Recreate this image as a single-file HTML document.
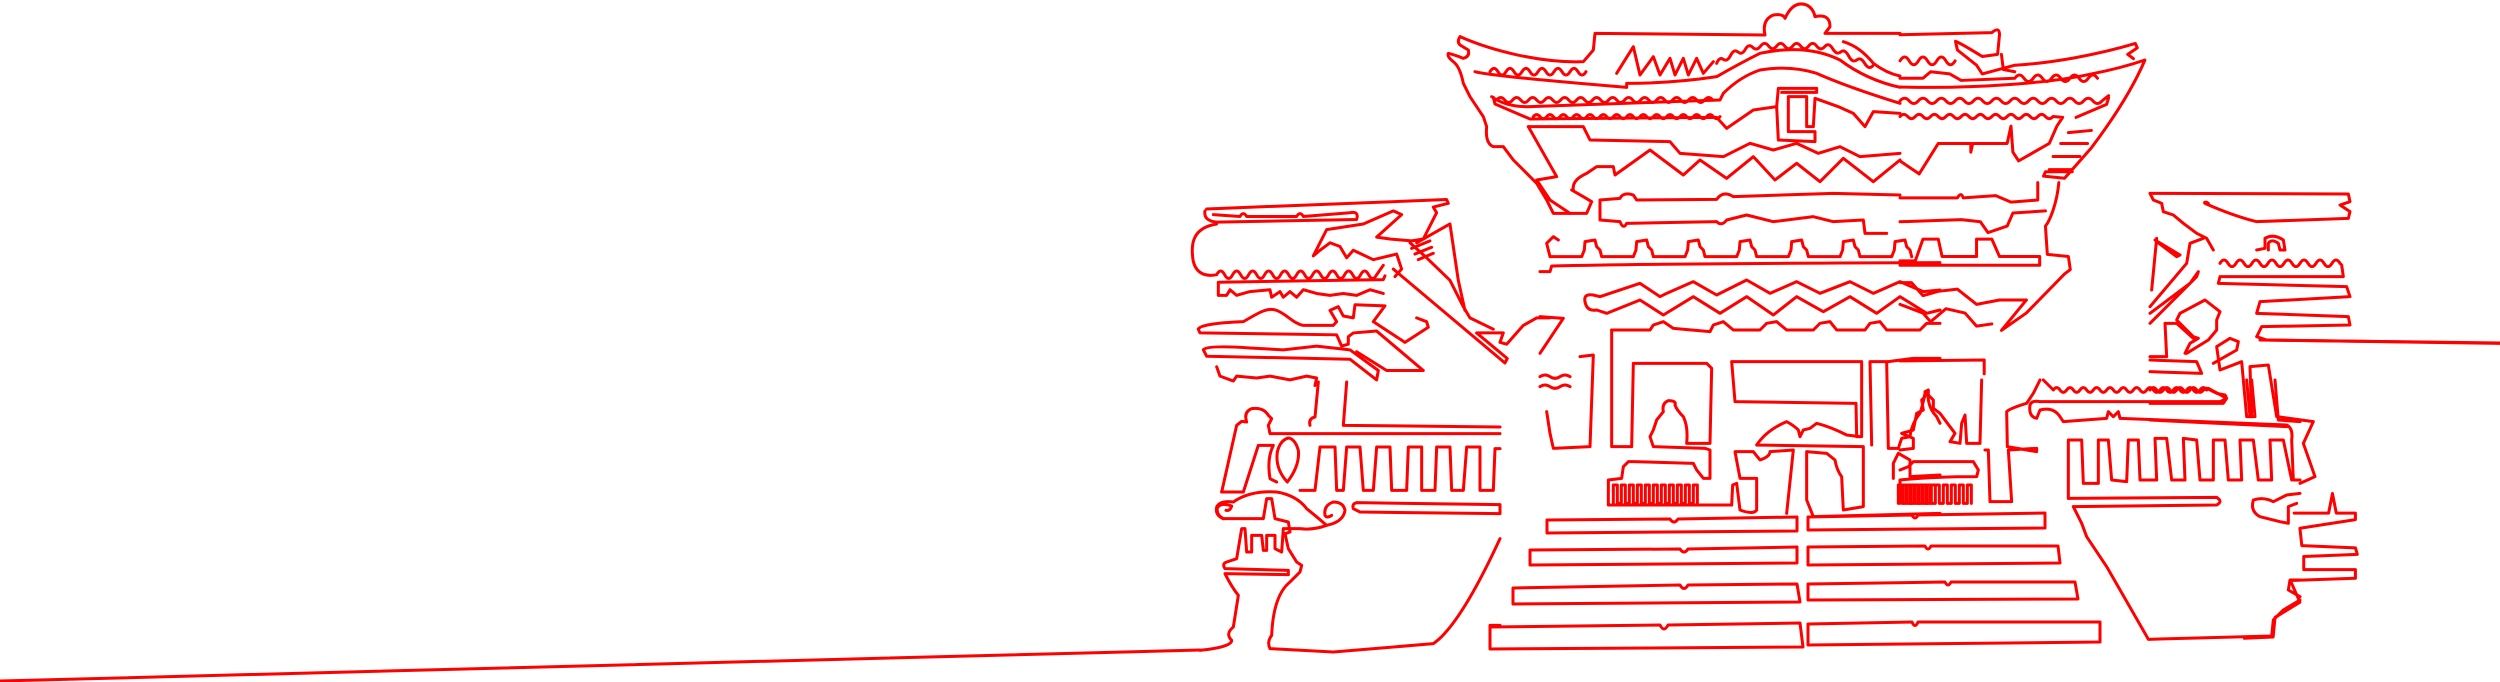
<!DOCTYPE html>
<html><head><meta charset="utf-8"><style>
html,body{margin:0;padding:0;background:#fff;width:2500px;height:682px;overflow:hidden}
svg{display:block}
path{vector-effect:non-scaling-stroke}
</style></head><body>
<svg width="2500" height="682" viewBox="0 0 2500 682" xmlns="http://www.w3.org/2000/svg">
<g fill="none" stroke="#ff0000" stroke-width="3" stroke-linejoin="round" stroke-linecap="round">

<path d="M0,681 C300,672 700,660 1200,650"/>
<path d="M2260,340 L2500,343"/>

<g transform="translate(1050,100) scale(0.3333,0.3757)">
<path d="M470,290 L1190,265 L1195,275 L1150,285 L1160,300 L1120,370 L1085,375 L1020,370 L980,365 L1055,305 L1030,295 L940,330 L830,345 L790,415 L810,400 L840,380 L870,390 L890,420 L910,400 L970,425 L1040,410 L1055,450 L1035,470"/>
<path d="M465,295 Q460,322 500,325 L920,318 Q928,295 900,300 L760,310 Q750,295 740,310 L590,310 Q580,295 570,310 L490,305"/>
<path d="M500,330 C430,340 420,380 430,430 C440,465 470,470 500,465 q12,-20 24,0 t24,0 t24,0 t24,0 t24,0 t24,0 t24,0 t24,0 t24,0 t24,0 t24,0 t24,0 t24,0 t24,0 t24,0 t24,0 t24,0 t24,0 t24,0 t24,0 L1000,440"/>
<path d="M505,485 L1000,478 L1005,468 M505,485 L505,520 L530,520 L540,505 L560,520 L600,510 L660,505 L665,525 L690,510 L700,525 L720,510 L740,525 L760,505 L800,515 L840,520 L880,515 L920,520 L960,505 L1000,515"/>
<path d="M445,610 Q450,595 580,590 C620,570 650,550 680,560 C710,570 730,595 760,600 L850,600 L860,590 L840,560 L865,550 L880,575 L910,580 L915,545 L1005,548 L970,590 L1065,645 L1135,605 L1130,590 L1100,580"/>
<path d="M445,610 L450,620 L860,625 L875,655 L895,650 L895,630 L910,620 L980,615 L1120,720 L1010,720 L920,670"/>
<path d="M460,665 Q470,652 600,660 L700,665 L800,655 L900,665 L985,720 L980,745 L900,690 L470,682 Z"/>
<path d="M500,710 L510,735 L550,748 L560,735 L620,740 L660,735 L720,745 L770,735 L800,740 L795,760"/>
<path d="M1030,450 L1365,700 L1372,688 L1280,620 L1360,620 L1350,645 L1370,650 L1420,600 L1460,580 L1500,580"/>
<path d="M1080,380 L1130,420 L1200,480 L1240,550 L1260,580 L1330,610 M1100,380 L1200,330 L1205,360 L1215,420 L1225,480 L1245,560"/>
<path d="M1085,395 L1140,375 M1095,410 L1145,392 M1105,425 L1150,408"/>
</g>

<g transform="translate(1200,382) scale(0.33333)">
<path d="M0,805 Q95,795 95,775 Q75,755 100,735 L115,640 Q95,615 75,575 L265,578 L265,565 L75,560 Q65,545 80,540 L110,530 L125,440 L135,440 L140,510 L155,510 L155,460 L185,460 L190,505 L200,505 L200,460 L225,460 L225,500 L245,510 L250,440 L300,440 Q340,445 380,430 Q430,420 435,385 Q430,360 400,360 Q370,370 375,400 Q380,410 395,400"/>
<path d="M380,430 Q345,400 320,380 Q290,340 230,330 Q150,325 100,360 Q60,355 50,375 Q45,400 70,410 L190,410 L200,350 L215,350 L225,410 L265,420 L270,450 L255,455 L265,500 L290,540 L305,550 L300,570 L290,580 L270,600 Q220,640 215,760 Q200,780 210,800 L400,810 L700,785 Q780,730 900,470"/>
<path d="M70,410 Q48,398 52,378 Q62,360 95,372 Q90,388 78,385"/>
<path d="M460,380 Q455,364 472,362 L900,368 L900,395 L480,390 Z"/>
<path d="M65,330 L110,130 L125,118 L140,120 Q130,90 155,80 Q190,75 205,100 L215,110 L205,130 L210,155 L900,155"/>
<path d="M65,330 L130,330 L175,190 L220,190 Q200,230 210,290 L230,300 M262,300 Q300,250 295,205 Q285,170 265,168 Q240,175 232,210 Q225,260 262,300 M300,325 L345,325 L360,195 L405,195 L410,325 L430,325 L440,195 L480,195 L490,325 L520,325 L530,195 L570,195 L575,325 L620,325 L625,195 L665,195 L665,325 L705,325 L710,195 L750,195 L755,325 L790,325 L800,195 L840,195 L840,325 L880,325 L885,200 L900,200"/>
<path d="M330,130 Q325,110 345,105 L355,0 M430,130 L440,0 M430,130 L900,135"/>
<path d="M870,800 L870,730 L900,730"/>
</g>

<g transform="translate(1440,0) scale(0.33333)">
<path d="M60,110 C150,150 300,190 430,185 L460,150 L465,100 L975,105 Q965,60 1000,45 Q1030,40 1035,55 Q1060,0 1100,15 Q1120,25 1125,50 Q1170,40 1170,80 L1155,100 L1380,100"/>
<path d="M60,110 Q50,125 60,135 L85,150 Q90,170 70,175 Q45,165 25,160 Q20,170 40,185 Q60,200 70,250 L90,290 L130,350 L140,380 Q135,430 160,440 L190,440 L220,480 L290,550 L320,600 L340,640 L380,640 L440,640 L455,605 L430,590 L395,570"/>
<path d="M105,215 Q150,228 560,262 L560,250 Q700,250 830,230 Q900,190 960,160 Q1100,130 1200,180 Q1280,240 1380,262"/>
<path d="M150,215 q12,-20 24,0 t24,0 t24,0 t24,0 t24,0 t24,0 t24,0 t24,0 t24,0 t24,0 t24,0 t24,0"/>
<path d="M530,220 L580,140 L600,225 L640,170 L660,225 L690,175 L705,225 L730,175 L745,225 L770,175 L790,220 L820,185"/>
<path d="M830,190 q8,-20 20,-12 t22,-12 t22,-10 t22,-8 t22,-6 t24,-4 t24,0 t24,0 t24,0 t24,0 t24,0 t24,0 t24,0 t24,2 t24,6 t24,10 t24,12 t24,12 t24,10 t24,8"/>
<path d="M1210,125 Q1260,140 1300,190 Q1340,220 1380,228"/>
<path d="M155,290 Q200,322 270,320 L840,300 L850,280 Q900,230 960,210 Q1050,195 1130,220 Q1220,260 1380,310"/>
<path d="M170,300 q12,-15 24,0 t24,0 t24,0 t24,0 t24,0 t24,0 t24,0 t24,0 t24,0 t24,0 t24,0 t24,0 t24,0 t24,0 t24,0 t24,0 t24,0 t24,0 t24,0 t24,0 t24,0 t24,0 t24,0 t24,0 t24,0 t24,0 t24,0"/>
<path d="M280,350 q10,-12 20,0 t20,0 t20,0 t20,0 t20,0 t20,0 t20,0 t20,0 t20,0 t20,0 t20,0 t20,0 t20,0 t20,0 t20,0 t20,0 t20,0 t20,0 t20,0 t20,0 t20,0 t20,0 t20,0 t20,0 t20,0 t20,0 t20,0 t20,0"/>
<path d="M160,292 L165,312 L270,357 L830,352 L860,385 L940,330 L1010,320 L1015,420 L1125,425 L1125,395 L1045,395 L1045,290 L1100,290 L1100,380 L1120,380 L1125,295 L1195,320 L1240,340 L1275,380 L1300,335 L1380,340"/>
<path d="M1010,320 L1015,265 L1130,265 L1130,277 L1025,277"/>
<path d="M265,380 L430,380 L450,420 L690,425 L720,460 L850,470 L930,430 L1000,450 L1070,430 L1135,460 L1200,440 L1260,470 L1380,460"/>
<path d="M265,380 L350,530 L290,540 L330,600 L390,640"/>
<path d="M400,570 Q395,540 440,520 L470,500 L520,500 L525,525 L630,450 L730,525 L780,480 L860,535 L940,470 L1005,540 L1070,490 L1140,545 L1210,475 L1300,545 L1380,480"/>
<path d="M480,600 L540,595 Q550,575 580,585 L590,600 L830,598 Q850,570 880,590 L1180,580 L1380,585 M480,600 L480,660 L540,665 Q550,690 560,670 L830,665 Q845,680 860,660 L920,645 L1000,665 L1120,650 L1180,665 L1270,660 L1275,700 L1340,700"/>
</g>

<g transform="translate(1540,230) scale(0.33333)">
<path d="M30,80 l95,0 l8,-20 l2,-25 l30,-5 l5,20 l10,10 l5,20 l95,0 l8,-20 l2,-25 l30,-5 l5,20 l10,10 l5,20 l95,0 l8,-20 l2,-25 l30,-5 l5,20 l10,10 l5,20 l95,0 l8,-20 l2,-25 l30,-5 l5,20 l10,10 l5,20 l95,0 l8,-20 l2,-25 l30,-5 l5,20 l10,10 l5,20 l95,0 l8,-20 l2,-25 l30,-5 l5,20 l10,10 l5,20 l95,0 l8,-20 l2,-25 l30,-5 l5,20 l10,10 l5,20 M30,80 L20,40 L40,20 L55,30"/>
<path d="M0,125 L30,125 L35,108 Q400,100 1200,98"/>
<path d="M135,215 Q130,190 160,195 L180,200 L210,190 L300,160 L360,200 L380,190 L460,155 L530,195 L620,150 L690,190 L770,155 L840,190 L930,155 L1000,190 L1080,155 L1150,185 L1200,180"/>
<path d="M135,215 Q140,245 170,240 L200,250 L300,210 L370,255 L460,200 L540,250 L620,200 L700,255 L770,200 L850,245 L930,200 L1010,250 L1080,200 L1160,250 L1200,240"/>
<path d="M215,300 L330,300 L340,285 L370,275 L400,295 L510,305 L520,285 L550,275 L580,300 L660,300 L680,280 L710,275 L740,300 L820,300 L840,280 L870,275 L890,300 L975,300 L990,280 L1020,275 L1040,300 L1140,300 L1160,280 L1200,280"/>
<path d="M215,300 L215,650 L275,650 L280,400 L500,400 L515,415 L510,640 L440,640 Q445,590 430,560 Q410,540 405,525 Q410,512 385,512 Q365,520 370,545 L350,570 L340,600 L330,620 L340,650 L495,655 L510,660 L510,745 L490,745 L470,720 L460,700 L280,695 L265,695 L250,710 L245,745 L205,750 L205,825 L575,825 L578,765 L590,760 L600,840 Q640,855 650,840 L650,745 L600,745 L585,665 L640,665 L660,690 Q690,680 690,665 L760,660 L740,850"/>
<path d="M220,820 l0,-55 l12,0 l0,55 l12,0 l0,-55 l12,0 l0,55 l12,0 l0,-55 l12,0 l0,55 l12,0 l0,-55 l12,0 l0,55 l12,0 l0,-55 l12,0 l0,55 l12,0 l0,-55 l12,0 l0,55 l12,0 l0,-55 l12,0 l0,55 l12,0 l0,-55 l12,0 l0,55 l12,0 l0,-55 l12,0 l0,55 l12,0 l0,-55 l12,0 l0,55 l12,0 l0,-55 l12,0 l0,55"/>
<path d="M575,395 L965,395 L965,620 L950,620 L948,520 L585,515 Z"/>
<path d="M650,645 Q680,600 740,575 Q760,585 775,600 L780,620 L790,600 L810,595 L830,580 Q870,590 920,615 L960,620 M650,645 L970,650 L970,830 L910,840 L905,740 Q890,720 885,690 L860,670 L800,665 L800,810 L820,860 L1200,850"/>
<path d="M995,645 L990,395 L1045,395 L1120,385 L1200,385 M1040,395 L1045,655 L1075,655 L1085,625 L1110,620 Q1115,580 1140,550 Q1150,520 1155,490 Q1165,480 1165,510 Q1170,540 1190,560 L1200,580"/>
<path d="M1060,745 L1060,700 L1075,670 L1110,690 L1110,740 L1200,735 M1075,820 l0,-55 l12,0 l0,55 l12,0 l0,-55 l12,0 l0,55 l12,0 l0,-55 l12,0 l0,55 l12,0 l0,-55 l12,0 l0,55 l12,0 l0,-55 l12,0"/>
<path d="M0,260 L70,265 L0,370 M120,380 L160,375 L150,650 L40,655 L30,610 L20,545 M0,440 q15,-10 30,0 t30,0 t30,0 M0,470 q15,-10 30,0 t30,0 t30,0"/>
</g>

<path d="M1547,520 L1670,519 Q1674,525 1678,519 L1797,517 L1797,531 L1547,533 Z"/>
<path d="M1530,550 L1680,549 Q1684,555 1688,549 L1797,547 L1797,563 L1530,565 Z"/>
<path d="M1513,588 L1680,585 Q1684,592 1688,585 L1797,584 L1800,602 L1513,604 Z"/>
<path d="M1490,627 L1660,625 Q1664,633 1668,625 L1800,623 L1803,647 L1490,649 Z"/>
<path d="M1808,517 L1912,515 Q1915,521 1918,515 L2045,513 L2045,528 L1808,530 Z"/>
<path d="M1808,547 L1925,546 Q1928,552 1931,546 L2058,546 L2060,563 L1808,565 Z"/>
<path d="M1808,584 L1945,582 Q1948,588 1951,582 L2075,582 L2078,599 L1808,600 Z"/>
<path d="M1808,624 L1912,622 Q1915,629 1918,622 L2100,622 L2100,642 L1808,645 Z"/>

<g transform="translate(1900,380) scale(0.33333)">
<path d="M0,210 L40,205 L40,175 L5,160 L40,150 L50,100 L70,90 L65,60 L75,50 L75,35 L85,30 L85,45 L100,60 L100,85 L120,100 L150,140 L165,160 L150,185 L180,190 L185,130 L195,105 L200,190 L240,190 L245,0"/>
<path d="M0,370 L0,300 Q100,290 230,290 L235,270 L220,245 L40,245 L25,260 L0,270"/>
<path d="M10,370 l0,-55 l12,0 l0,55 l12,0 l0,-55 l12,0 l0,55 l12,0 l0,-55 l12,0 l0,55 l12,0 l0,-55 l12,0 l0,55 l12,0 l0,-55 l12,0 l0,55 l12,0 l0,-55 l12,0 l0,55 l12,0 l0,-55 l12,0 l0,55 l12,0 l0,-55 l12,0 l0,55 l12,0 l0,-55 l12,0 l0,55"/>
<path d="M255,210 L265,210 L270,365 L335,365 L325,210 L410,205 L410,215 L322,200 L320,95 Q330,85 380,70 L400,40 L420,0"/>
<path d="M390,75 Q395,60 420,65 L960,65 Q985,55 975,45 L950,40 L920,25 M430,0 L460,30 q10,-14 20,0 t20,0 t20,0 t20,0 t20,0 t20,0 t20,0 t20,0 t20,0 t20,0 t20,0 t20,0 t20,0 t20,0 t20,0 t20,0 t20,0 t20,0 t20,0 t20,0 t20,0 t20,0 t20,0"/>
<path d="M390,75 Q385,110 410,115 L420,90 Q460,80 480,110 L490,125 L620,115 L625,95 L640,110 L655,95 L660,115 L1160,135 Q1180,145 1175,180 L1180,300 L1200,300 M1040,0 L1050,110 L1065,110 L1055,0 M1125,0 L1135,120 L1200,125"/>
<path d="M505,355 L505,180 L545,180 L550,310 L595,310 L595,180 L625,180 L635,300 L680,305 L685,180 L715,180 L720,300 L770,300 L765,175 L800,175 L815,300 L855,300 L850,175 L890,180 L900,300 L940,300 L940,180 L975,180 L985,300 L1025,300 L1020,180 L1060,180 L1075,300 L1115,300 L1110,180 L1150,180 L1175,300"/>
<path d="M505,355 L950,352 Q970,365 950,375 L520,380"/>
<path d="M520,380 L545,430 L560,470 L620,560 L735,760 L745,778 L1115,768 L1120,720 L1150,690 L1200,660 M1200,600 L1170,600 L1165,630 L1200,650"/>
<path d="M1200,340 L1160,345 L1120,365 Q1090,350 1060,360 Q1050,395 1080,410 L1140,425 L1165,430 L1165,380 L1190,370"/>
</g>

<g transform="translate(1900,0) scale(0.3827,0.4348)">
<path d="M0,80 L240,75 Q260,60 260,80 L255,125 L215,130 Q160,100 145,95 L150,115 L200,150 L215,170 L300,150 C400,145 520,125 615,100 L620,110 L595,125 L610,135"/>
<path d="M0,200 C200,205 400,190 500,170 C560,160 600,150 640,138 C610,200 560,270 500,340 L430,410 L375,405 L380,395 L450,395"/>
<path d="M0,180 L60,180 L80,165 L130,170 L160,185 L300,180 q12,-15 24,0 t24,0 t24,0 t24,0 t24,0 t24,0 t24,0 t24,0 t24,0"/>
<path d="M0,140 q12,-18 24,0 t24,0 t24,0 t24,0 t24,0 t24,0 M265,125 L270,160 L300,165"/>
<path d="M0,232 q12,-12 24,0 t24,0 t24,0 t24,0 t24,0 t24,0 t24,0 t24,0 t24,0 t24,0 t24,0 t24,0 t24,0 t24,0 t24,0 t24,0 t24,0 t24,0 t24,0 t24,0 t24,0 t24,0 L545,220"/>
<path d="M0,268 q10,-10 20,0 t20,0 t20,0 t20,0 t20,0 t20,0 t20,0 t20,0 t20,0 t20,0 t20,0 t20,0 t20,0 t20,0 t20,0 t20,0 t20,0 t20,0 t20,0 t20,0 L425,270 L410,290 L390,330 L310,370 L295,350 L290,290 L280,330 L190,330 L185,350 L185,330 L100,330 L50,400 L0,370"/>
<path d="M460,270 L540,240 L545,225 M440,305 L500,300 M420,330 L490,330 M400,360 L470,360 M390,390 L450,390"/>
<path d="M415,420 C410,470 390,510 380,520 L385,585 L440,590 L445,620 L430,630 L330,720 L265,760 L330,690"/>
<path d="M0,455 L150,455 Q160,440 165,455 L250,450 L290,465 L360,460 L360,420 M0,510 L160,505 L210,510 L230,535 L280,520 L295,490 L380,485"/>
<path d="M0,600 L40,600 L60,550 L100,550 L110,590 L200,590 L200,550 L240,550 L260,590 L365,590 L365,610 L0,610"/>
<path d="M0,650 L30,650 L60,680 L100,670 L150,665 L200,700 L260,690 L330,690 M0,700 L60,720 L80,740 L120,710 L170,720 L200,750 L240,745"/>
<path d="M0,830 L220,828 L220,860"/>
<path d="M1030,1180 L1120,1180 L1130,1135 L1140,1180 L1190,1180 L1190,1195 L1045,1215 L1050,1255 L1190,1260 L1195,1275 L1055,1280 L1055,1310 L1190,1310 L1190,1330 L1020,1335 L1045,1385 L980,1420 L975,1465 L900,1468"/>
</g>

<g transform="translate(2150,150) scale(0.33333)">
<path d="M0,130 L595,132 L600,155 L570,165 L600,185 L595,205 L320,215 C260,200 210,180 165,160 C160,155 170,155 175,160"/>
<path d="M0,130 L10,150 L35,160 L40,185 L70,195 L100,220 L140,250 L170,265 L190,300"/>
<path d="M210,340 q12,-20 24,0 t24,0 t24,0 t24,0 t24,0 t24,0 t24,0 t24,0 t24,0 t24,0 t24,0 t24,0 t24,0 t24,0 t24,0 L575,345 L580,380 L210,380 L205,400 L590,410 L600,440 L330,455 L320,490 L595,500 L600,525 L335,530 L320,560 L350,570 L1050,580"/>
<path d="M320,300 L345,295 L345,265 Q370,250 400,270 L405,300 L390,300 L385,280 Q365,265 355,280 L355,300"/>
<path d="M0,520 L140,380 L145,365 L120,400 L0,490 M0,470 L110,340 L120,280 L160,265 M15,270 L90,315 L80,320 L20,275 M20,265 L5,420"/>
<path d="M110,610 L175,570 L200,540 L200,510 L210,485 L165,450 L90,490 L80,510 L130,560 L145,565 L120,580 L105,610"/>
<path d="M190,640 L260,600 L265,575 L240,565 L200,590 L210,660 L275,635 L290,800 L305,800 L300,650 L355,645 L380,800 L490,815 L460,880 L495,980 L450,1000"/>
<path d="M0,630 L140,635 L155,670 L0,665 M0,620 L50,620 L45,520 L80,520 L130,565"/>
<path d="M0,720 q10,-14 20,0 t20,0 t20,0 t20,0 t20,0 t20,0 t20,0 t20,0 L175,715 L230,745 L220,760 L0,760"/>
<path d="M0,810 L410,830"/>
</g>

</g>
</svg>
</body></html>
